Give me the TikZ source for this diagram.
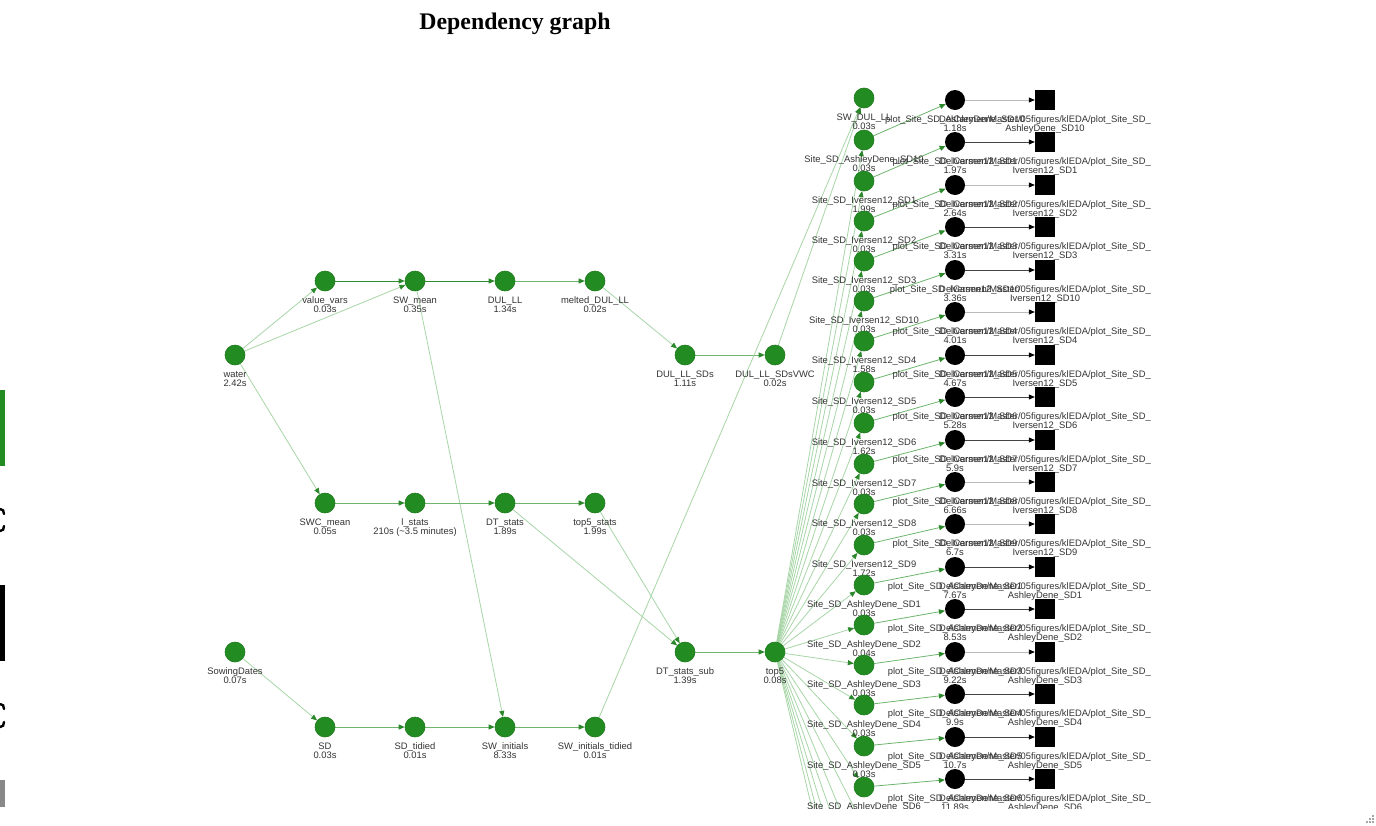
\documentclass[tikz,border=0pt]{standalone}
\usepackage{fontspec}
\setmainfont{Liberation Sans}
\newfontfamily\titlefont{Liberation Serif}
\usetikzlibrary{arrows.meta}
\pgfdeclarelayer{bg}
\pgfdeclarelayer{edges}
\pgfsetlayers{bg,edges,main}

\definecolor{nodegreen}{HTML}{228B22}
\definecolor{nodeedge}{HTML}{1E7B1E}
\definecolor{edgelight}{HTML}{A8D6A8}
\definecolor{edgemid}{HTML}{6DB56D}
\definecolor{edgedark}{HTML}{2E8B2E}
\definecolor{tipgreen}{HTML}{2A872A}
\definecolor{labelgray}{HTML}{343434}
\definecolor{outlight}{HTML}{BBBBBB}
\definecolor{outdark}{HTML}{444444}
\definecolor{legendgray}{HTML}{888888}

\tikzset{
  x=1pt, y=-1pt,
  target/.style={circle, fill=nodegreen, draw=nodeedge, line width=0.6pt,
    minimum size=20pt, inner sep=0pt},
  plotnode/.style={circle, fill=black, minimum size=20pt, inner sep=0pt},
  filenode/.style={rectangle, fill=black, minimum size=20pt, inner sep=0pt},
  lbl/.style={font=\fontsize{9.4}{10}\selectfont, text=labelgray,
    inner sep=0pt, anchor=base},
  dep/.style={draw=edgelight, line width=0.8pt,
    -{Triangle[length=6pt,width=5pt,color=tipgreen]}},
  depmid/.style={dep, draw=edgemid},
  depdark/.style={dep, draw=edgedark},
  outedge/.style={line width=0.8pt,
    -{Triangle[length=6pt,width=5pt,color=black]}},
}

% node with a two-line caption below it: name, x, y, style, caption, time
\newcommand\tgt[6]{%
  \node[#4] (#1) at (#2,#3) {};
  \node[lbl] (#1-a) at (#2,#3+22) {#5};
  \node[lbl] (#1-b) at (#2,#3+31.5) {#6};
}

\begin{document}
\begin{tikzpicture}
\useasboundingbox (0,0) rectangle (1376,825);
\begin{pgfonlayer}{bg}
  \fill[white] (0,0) rectangle (1376,825);
\end{pgfonlayer}

% title
\node[font=\titlefont\bfseries\fontsize{23.8}{26}\selectfont, anchor=base,
      inner sep=0pt] (title) at (515,29) {Dependency graph};

% legend fragments at the left edge
\fill[nodegreen] (0,390) rectangle (5,466);
\draw[line width=2.4pt, line cap=round] (0,509) .. controls (3,509) and (4,511) .. (4,514);
\draw[line width=2.4pt, line cap=round] (0,531) .. controls (3,531) and (4,529) .. (4,526);
\fill[black] (0,585) rectangle (5,661);
\draw[line width=2.4pt, line cap=round] (0,704) .. controls (3,704) and (4,706) .. (4,709);
\draw[line width=2.4pt, line cap=round] (0,727) .. controls (3,727) and (4,725) .. (4,722);
\fill[legendgray] (0,780) rectangle (5,807);

% resize grip
\foreach \gx/\gy in {1373/816,1370/819,1373/819,1367/822,1370/822,1373/822}
  \fill[gray!70] (\gx-0.6,\gy-0.6) rectangle (\gx+0.6,\gy+0.6);

\begin{scope}
\clip (0,0) rectangle (1376,808);

% pipeline targets
\tgt{water}{235}{355}{target}{water}{2.42s}
\tgt{sowing}{235}{652}{target}{SowingDates}{0.07s}
\tgt{valuevars}{325}{281}{target}{value\_vars}{0.03s}
\tgt{swcmean}{325}{503}{target}{SWC\_mean}{0.05s}
\tgt{sd}{325}{727}{target}{SD}{0.03s}
\tgt{swmean}{415}{281}{target}{SW\_mean}{0.35s}
\tgt{lstats}{415}{503}{target}{l\_stats}{210s (\textasciitilde3.5 minutes)}
\tgt{sdtidied}{415}{727}{target}{SD\_tidied}{0.01s}
\tgt{dulll}{505}{281}{target}{DUL\_LL}{1.34s}
\tgt{dtstats}{505}{503}{target}{DT\_stats}{1.89s}
\tgt{swinit}{505}{727}{target}{SW\_initials}{8.33s}
\tgt{melted}{595}{281}{target}{melted\_DUL\_LL}{0.02s}
\tgt{topstats}{595}{503}{target}{top5\_stats}{1.99s}
\tgt{swinittid}{595}{727}{target}{SW\_initials\_tidied}{0.01s}
\tgt{dullsds}{685}{355}{target}{DUL\_LL\_SDs}{1.11s}
\tgt{dtsub}{685}{652}{target}{DT\_stats\_sub}{1.39s}
\tgt{vwc}{775}{355}{target}{DUL\_LL\_SDsVWC}{0.02s}
\tgt{top}{775}{652}{target}{top5}{0.08s}
\tgt{s0}{864}{98}{target}{SW\_DUL\_LL}{0.03s}

% site targets, their plots and the plot files
\foreach \i/\sy/\py/\nm/\st/\pt in {
  1/140/100/AshleyDene\_SD10/0.03s/1.18s,
  2/181/142/Iversen12\_SD1/1.99s/1.97s,
  3/221/185/Iversen12\_SD2/0.03s/2.64s,
  4/261/227/Iversen12\_SD3/0.03s/3.31s,
  5/301/270/Iversen12\_SD10/0.03s/3.36s,
  6/341/312/Iversen12\_SD4/1.58s/4.01s,
  7/382/355/Iversen12\_SD5/0.03s/4.67s,
  8/423/397/Iversen12\_SD6/1.62s/5.28s,
  9/464/440/Iversen12\_SD7/0.03s/5.9s,
  10/504/482/Iversen12\_SD8/0.03s/6.66s,
  11/545/524/Iversen12\_SD9/1.72s/6.7s,
  12/585/567/AshleyDene\_SD1/0.03s/7.67s,
  13/625/609/AshleyDene\_SD2/0.04s/8.53s,
  14/665/652/AshleyDene\_SD3/0.03s/9.22s,
  15/705/694/AshleyDene\_SD4/0.03s/9.9s,
  16/746/737/AshleyDene\_SD5/0.03s/10.7s,
  17/787/779/AshleyDene\_SD6/{}/11.89s}
{
  \tgt{s\i}{864}{\sy}{target}{Site\_SD\_\nm}{\st}
  \tgt{p\i}{955}{\py}{plotnode}{plot\_Site\_SD\_\nm}{\pt}
  \tgt{f\i}{1045}{\py}{filenode}{DelCarmen/Master/05figures/klEDA/plot\_Site\_SD\_}{\nm}
}

% site targets further down the column
\foreach \i/\hy in {18/827,19/868,20/908,21/948,22/989,23/1029}
  \coordinate (s\i) at (864,\hy);
\end{scope}

\begin{pgfonlayer}{edges}
\begin{scope}
\clip (0,0) rectangle (1376,808);
\draw[dep] (water) -- (valuevars);
\draw[dep] (water) -- (swmean);
\draw[dep] (water) -- (swcmean);
\draw[depdark] (valuevars) -- (swmean);
\draw[depdark] (swmean) -- (dulll);
\draw[depmid] (dulll) -- (melted);
\draw[dep] (melted) -- (dullsds);
\draw[depmid] (dullsds) -- (vwc);
\draw[dep] (swmean) -- (swinit);
\draw[depmid] (swcmean) -- (lstats);
\draw[depmid] (lstats) -- (dtstats);
\draw[depmid] (dtstats) -- (topstats);
\draw[dep] (dtstats) -- (dtsub);
\draw[dep] (topstats) -- (dtsub);
\draw[depmid] (dtsub) -- (top);
\draw[dep] (sowing) -- (sd);
\draw[depmid] (sd) -- (sdtidied);
\draw[depmid] (sdtidied) -- (swinit);
\draw[depmid] (swinit) -- (swinittid);
\draw[dep] (swinittid) -- (s0);
\draw[dep] (vwc) -- (s0);
\foreach \i in {1,...,23}
  \draw[dep] (top) -- (s\i);
\foreach \i in {1,...,17}
  \draw[depmid] (s\i) -- (p\i);
\foreach \i/\c in {1/outlight,2/outdark,3/outlight,4/outdark,5/outdark,
    6/outlight,7/outdark,8/outdark,9/outdark,10/outlight,11/outlight,
    12/outdark,13/outdark,14/outlight,15/outdark,16/outdark,17/outdark}
  \draw[outedge, draw=\c] (p\i) -- (f\i);
\end{scope}
\end{pgfonlayer}
\end{tikzpicture}
\end{document}
